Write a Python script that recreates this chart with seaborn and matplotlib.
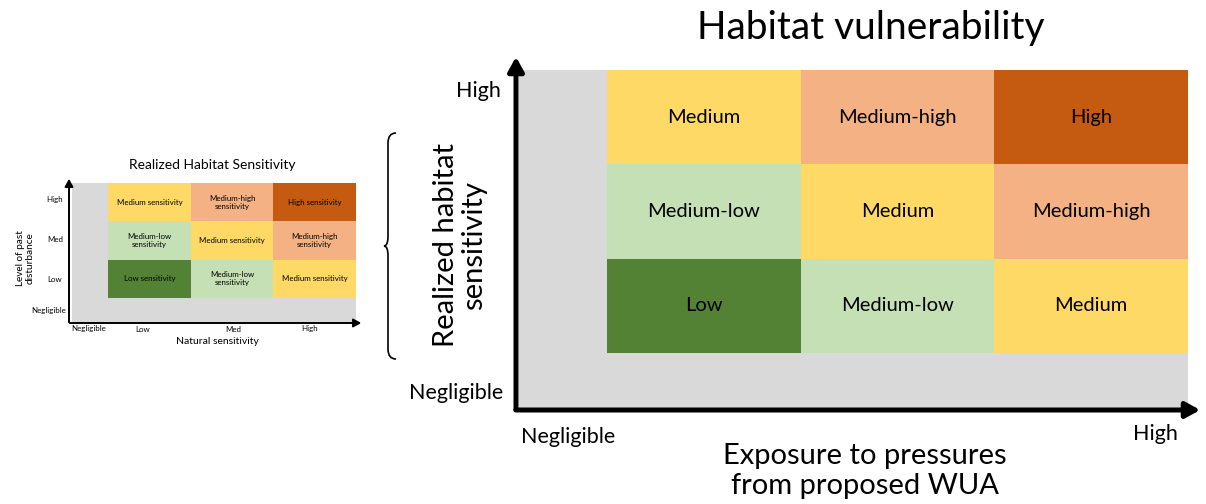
import numpy as np
import matplotlib
matplotlib.use("Agg")
import matplotlib.pyplot as plt
from matplotlib.colors import ListedColormap
from matplotlib.path import Path
from matplotlib.patches import PathPatch, FancyArrowPatch
import seaborn as sns

sns.set_style("white")
plt.rcParams['font.family'] = ['Lato', 'DejaVu Sans']
plt.rcParams['text.color'] = 'black'

# vulnerability levels and their colours
levels = ["Low", "Medium-low", "Medium", "Medium-high", "High"]
level_colors = ["#548235", "#C5E0B4", "#FFD966", "#F4B183", "#C55A11"]
gray = "#D9D9D9"

# level index per cell, top row = High sensitivity, left col = Low exposure
grid_codes = np.array([[2, 3, 4],
                       [1, 2, 3],
                       [0, 1, 2]])
big_labels = np.array([[levels[c] for c in row] for row in grid_codes])
small_labels = np.array([["Medium sensitivity", "Medium-high\nsensitivity", "High sensitivity"],
                         ["Medium-low\nsensitivity", "Medium sensitivity", "Medium-high\nsensitivity"],
                         ["Low sensitivity", "Medium-low\nsensitivity", "Medium sensitivity"]])

big_y_ticks = ["High", "Negligible"]
big_x_ticks = ["Negligible", "High"]
small_y_ticks = ["High", "Med", "Low", "Negligible"]
small_x_ticks = ["Negligible", "Low", "Med", "High"]

W, H = 1206, 504
fig = plt.figure(figsize=(W / 100, H / 100), dpi=100)


def fx(px):
    return px / W


def fy(py):
    return 1 - py / H


def box(x0, y0, x1, y1):
    return [fx(x0), fy(y1), (x1 - x0) / W, (y1 - y0) / H]


def arrow(x0, y0, x1, y1, lw, head):
    a = FancyArrowPatch((fx(x0), fy(y0)), (fx(x1), fy(y1)), transform=fig.transFigure,
                        arrowstyle=f"-|>,head_length={head},head_width={head * 0.55}",
                        lw=lw, color="black", mutation_scale=10)
    fig.patches.append(a)


def txt(x, y, s, size, **kw):
    kw.setdefault("ha", "center")
    kw.setdefault("va", "center")
    fig.text(fx(x), fy(y), s, fontsize=size, **kw)


cmap = ListedColormap(level_colors)


def matrix(gray_box, cell_box, labels, fsize):
    gax = fig.add_axes(box(*gray_box))
    gax.set_facecolor(gray)
    gax.set_xticks([])
    gax.set_yticks([])
    for s in gax.spines.values():
        s.set_visible(False)
    hax = fig.add_axes(box(*cell_box))
    sns.heatmap(grid_codes, annot=labels, fmt="", cmap=cmap, vmin=-0.5, vmax=4.5,
                cbar=False, ax=hax, linewidths=0,
                annot_kws={"color": "black", "fontsize": fsize})
    hax.set_xticks([])
    hax.set_yticks([])


# ---- small chart: realized habitat sensitivity
matrix((72, 183, 356, 322), (108, 183, 356, 298), small_labels, 5.7)
arrow(69, 325, 69, 176, 1.4, 0.45)
arrow(67, 323, 364, 323, 1.4, 0.45)
txt(212, 165, "Realized Habitat Sensitivity", 10)
for lab, y in zip(small_y_ticks, [200, 240, 279, 311]):
    txt(55 if lab != "Negligible" else 49, y, lab, 5.7)
for lab, x in zip(small_x_ticks, [89, 143, 233, 310]):
    txt(x, 329, lab, 5.7)
txt(217, 342, "Natural sensitivity", 7.5)
txt(25, 258, "Level of past\ndisturbance", 7.2, rotation=90, linespacing=1.1)

# ---- curly brace
bx, by0, by1, tip = 396, 133, 359, 384
ym = (by0 + by1) / 2
vx = bx - 8
pts = [(bx, by0),
       (vx, by0), (vx, by0 + 10),
       (vx, ym - 10),
       (vx, ym), (tip, ym),
       (vx, ym), (vx, ym + 10),
       (vx, by1 - 10),
       (vx, by1), (bx, by1)]
codes = [Path.MOVETO,
         Path.CURVE3, Path.CURVE3,
         Path.LINETO,
         Path.CURVE3, Path.CURVE3,
         Path.CURVE3, Path.CURVE3,
         Path.LINETO,
         Path.CURVE3, Path.CURVE3]
brace = Path([(fx(x), fy(y)) for x, y in pts], codes)
fig.patches.append(PathPatch(brace, transform=fig.transFigure, fill=False, lw=1.2,
                             edgecolor="black"))

# ---- big chart: habitat vulnerability
matrix((519, 70, 1188, 408), (607, 70, 1188, 353), big_labels, 14.5)
arrow(516, 412, 516, 54, 3.6, 0.85)
arrow(513, 410, 1203, 410, 3.6, 0.85)
txt(871, 28, "Habitat vulnerability", 28)
txt(501, 91, big_y_ticks[0], 15.5, ha="right")
txt(503, 393, big_y_ticks[1], 15.5, ha="right")
txt(568, 437, big_x_ticks[0], 15.5)
txt(1155, 434, big_x_ticks[1], 15.5)
txt(865, 471, "Exposure to pressures\nfrom proposed WUA", 21, linespacing=1.2)
txt(460, 245, "Realized habitat\nsensitivity", 21, rotation=90, linespacing=1.1)

fig.savefig("out.png", dpi=100)
